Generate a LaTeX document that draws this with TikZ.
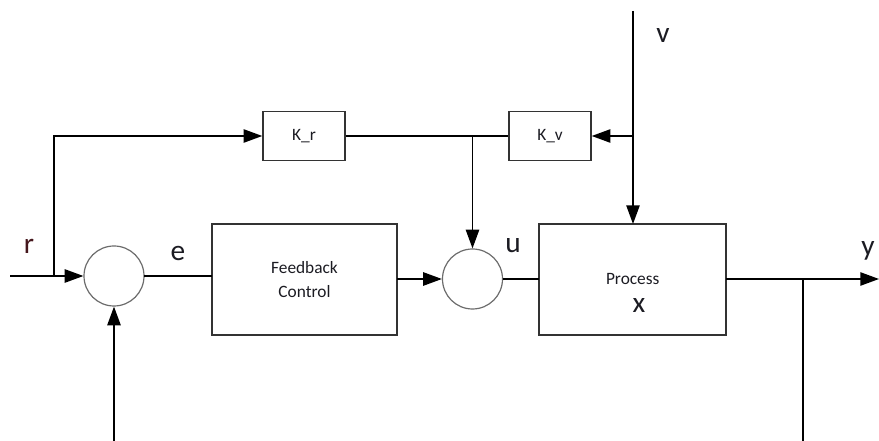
\documentclass[tikz,border=0pt]{standalone}
\usepackage{fontspec}
\setmainfont{Carlito}
\usetikzlibrary{arrows.meta}
\definecolor{txt}{HTML}{1B1B22}
\definecolor{edge}{HTML}{333333}
\begin{document}
\begin{tikzpicture}[x=0.75pt,y=-0.75pt,
  wire/.style={line width=1.1pt,draw=black},
  sig/.style={wire,-{Triangle[length=14pt,width=10pt]}},
  block/.style={draw=edge,line width=1.1pt,rectangle,inner sep=0pt,
    font=\fontsize{13}{18}\selectfont,text=txt,align=center},
  sumjct/.style={draw=gray!85!black,line width=0.9pt,circle,minimum size=45pt,inner sep=0pt},
  lbl/.style={font=\fontsize{22}{24}\selectfont,text=txt,inner sep=0pt}]
\useasboundingbox (0,0) rectangle (879,441);

% summing junctions
\node[sumjct] (s1) at (114,276) {};
\node[sumjct] (s2) at (472.5,279) {};

% blocks
\node[block,minimum width=138.75pt,minimum height=83.25pt] (fb) at (304.5,279.5) {Feedback\\Control};
\node[block,minimum width=140.25pt,minimum height=83.25pt] (proc) at (632.5,279.5) {};
\node[font=\fontsize{13}{15}\selectfont,text=txt,inner sep=0pt] (ptxt) at (632.7,279) {Process};
\node[lbl] (xlbl) at (639,305) {x};
\node[block,minimum width=61.5pt,minimum height=36.75pt] (kr) at (304,136) {K\_r};
\node[block,minimum width=61.5pt,minimum height=36.75pt] (kv) at (550,136) {K\_v};

% connection points
\coordinate (rin) at (10,276);
\coordinate (rsplit) at (54,276);
\coordinate (rtop) at (54,136);
\coordinate (kjoin) at (472.5,136);
\coordinate (vtop) at (633,11);
\coordinate (vsplit) at (633,136);
\coordinate (ptop) at (633,224);
\coordinate (pout) at (726,279);
\coordinate (ysplit) at (803,279);
\coordinate (yend) at (879,279);
\coordinate (ybot) at (803,441);
\coordinate (fbin) at (114,441);
\coordinate (fbright) at (397,279);
\coordinate (s2right) at (502.5,279);
\coordinate (pleft) at (539,279);
\coordinate (s1right) at (144,276);
\coordinate (fbleft) at (212,276);

% reference path and feedforward of r
\draw[sig] (rin) -- (s1.west);
\draw[sig] (rsplit) -- (rtop) -- (kr.west);
\draw[wire] (s1right) -- (fbleft);
\draw[sig] (fbright) -- (s2.west);
\draw[wire] (s2right) -- (pleft);

% feedforward gains into the second junction
\draw[wire] (kr.east) -- (kv.west);
\draw[sig] (kjoin) -- (s2.north);

% disturbance v
\draw[sig] (vtop) -- (ptop);
\draw[sig] (vsplit) -- (kv.east);

% output and measured feedback
\draw[sig] (pout) -- (yend);
\draw[wire] (ysplit) -- (ybot);
\draw[sig] (fbin) -- (s1.south);

% signal labels
\node[lbl,text=red!18!txt] (rl) at (29,246) {r};
\node[lbl] (el) at (178,253) {e};
\node[lbl] (ul) at (513,246) {u};
\node[lbl] (yl) at (868,251) {y};
\node[lbl] (vl) at (663,36) {v};
\end{tikzpicture}
\end{document}
